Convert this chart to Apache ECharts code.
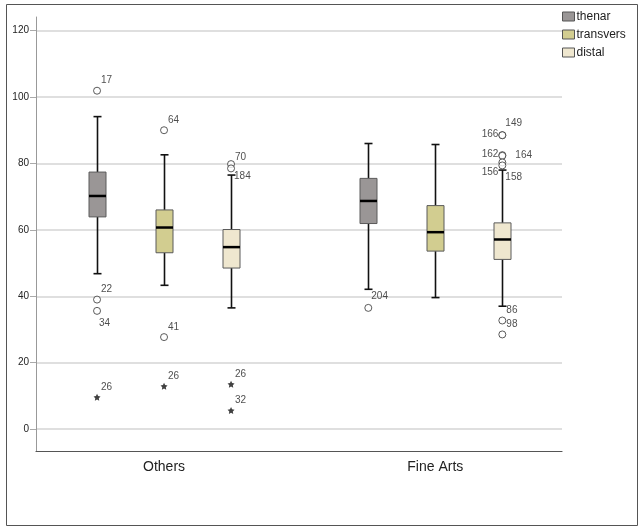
<!DOCTYPE html>
<html>
<head>
<meta charset="utf-8">
<script src="https://cdn.jsdelivr.net/npm/echarts@6/dist/echarts.min.js"></script>
<style>
html,body{margin:0;padding:0;background:#fff;}
#chart{width:638px;height:528px;}
</style>
</head>
<body>
<div id="chart"></div>
<script>
// ---------- data ----------
const groups = ['Others', 'Fine Arts'];
const seriesNames = ['thenar', 'transvers', 'distal'];
const yTicks = [0, 20, 40, 60, 80, 100, 120];
// [min, Q1, median, Q3, max] per group
const thenarStats    = [[46.8, 63.9, 70.2, 77.4, 94.1], [42.1, 61.9, 68.7, 75.5, 86.0]];
const transversStats = [[43.3, 53.1, 60.7, 66.0, 82.6], [39.6, 53.6, 59.3, 67.3, 85.7]];
const distalStats    = [[36.5, 48.5, 54.8, 60.1, 76.5], [37.0, 51.1, 57.1, 62.1, 78.0]];
// outliers: [groupIndex, value, case id]
const thenarOutliers    = [[0, 101.9, '17'], [0, 39.0, '22'], [0, 35.6, '34'], [1, 36.5, '204']];
const transversOutliers = [[0, 90.0, '64'], [0, 27.7, '41']];
const distalOutliers    = [[0, 79.8, '70'], [0, 78.5, '184'], [1, 88.5, '149'], [1, 88.5, '166'],
                           [1, 82.5, '162'], [1, 82.3, '164'], [1, 80.3, '156'], [1, 79.4, '158'],
                           [1, 32.7, '86'], [1, 28.5, '98']];
// extremes (stars)
const thenarExtremes    = [[0, 9.6, '26']];
const transversExtremes = [[0, 12.9, '26']];
const distalExtremes    = [[0, 13.5, '26'], [0, 5.6, '32']];

// ---------- style / layout ----------
const groupPos = [1, 2];
const seriesOffset = [-0.247, 0, 0.247];
const colors = ['#9a9696', '#d2cd90', '#efe7cf'];
const boxWidth = 17, capWidth = 8;
const FONT = 'Liberation Sans, Arial, sans-serif';
const placements = {
  ur: [4, -10, 'left'], lr: [2, 12, 'left'], l: [-4, -1, 'right'], r: [13, -1, 'left'],
  ll: [-4, 10, 'right'], ur2: [4, -7, 'left'], lr2: [3, 8, 'left'], ur3: [3, -12, 'left'], br: [3, 12, 'left']
};
const labelPlacement = {
  'thenar-34': 'lr', 'distal-70': 'ur2', 'distal-184': 'lr2', 'thenar-204': 'ur3',
  'distal-166': 'l', 'distal-162': 'l', 'distal-164': 'r', 'distal-156': 'll', 'distal-158': 'br',
  'distal-149': 'ur3'
};

const allStats = [thenarStats, transversStats, distalStats];
const allOutliers = [thenarOutliers, transversOutliers, distalOutliers];
const allExtremes = [thenarExtremes, transversExtremes, distalExtremes];

const starPath = 'path://M0,-10L2.9,-4L9.5,-3.1L4.8,1.6L5.9,8.1L0,5L-5.9,8.1L-4.8,1.6L-9.5,-3.1L-2.9,-4Z';

function pointItem(sIdx, p) {
  const key = seriesNames[sIdx] + '-' + p[2];
  const pl = placements[labelPlacement[key] || 'ur'];
  return {
    name: p[2],
    value: [groupPos[p[0]] + seriesOffset[sIdx], p[1]],
    label: { offset: [pl[0], pl[1]], align: pl[2] }
  };
}

const series = [];
allStats.forEach((stats, sIdx) => {
  series.push({
    name: seriesNames[sIdx],
    type: 'custom',
    z: 3,
    itemStyle: { color: colors[sIdx] },
    encode: { x: 0, y: [1, 2, 3, 4, 5] },
    data: stats.map((s, g) => [groupPos[g] + seriesOffset[sIdx]].concat(s)),
    renderItem: function (params, api) {
      const x = api.value(0);
      const pLo = api.coord([x, api.value(1)]);
      const pQ1 = api.coord([x, api.value(2)]);
      const pMd = api.coord([x, api.value(3)]);
      const pQ3 = api.coord([x, api.value(4)]);
      const pHi = api.coord([x, api.value(5)]);
      const cx = Math.round(pLo[0]) + 0.5;
      const hw = boxWidth / 2, cw = capWidth / 2;
      const ws = { stroke: '#111', lineWidth: 1.6 };
      return {
        type: 'group',
        children: [
          { type: 'line', shape: { x1: cx, y1: pLo[1], x2: cx, y2: pQ1[1] }, style: ws },
          { type: 'line', shape: { x1: cx, y1: pQ3[1], x2: cx, y2: pHi[1] }, style: ws },
          { type: 'line', shape: { x1: cx - cw, y1: pLo[1], x2: cx + cw, y2: pLo[1] }, style: ws },
          { type: 'line', shape: { x1: cx - cw, y1: pHi[1], x2: cx + cw, y2: pHi[1] }, style: ws },
          { type: 'rect', shape: { x: cx - hw, y: pQ3[1], width: boxWidth, height: pQ1[1] - pQ3[1] },
            style: { fill: colors[sIdx], stroke: '#5a5a5a', lineWidth: 1 } },
          { type: 'line', shape: { x1: cx - hw, y1: pMd[1], x2: cx + hw, y2: pMd[1] },
            style: { stroke: '#000', lineWidth: 2.5 } }
        ]
      };
    }
  });
});

const labelBase = {
  show: true, position: 'inside', formatter: '{b}', color: '#222',
  fontFamily: FONT, fontSize: 10, verticalAlign: 'middle'
};

const circleData = [], starData = [];
allOutliers.forEach((arr, sIdx) => arr.forEach(p => circleData.push(pointItem(sIdx, p))));
allExtremes.forEach((arr, sIdx) => arr.forEach(p => starData.push(pointItem(sIdx, p))));

series.push({
  type: 'scatter', name: 'outliers', z: 5,
  symbol: 'circle', symbolSize: 7,
  itemStyle: { color: '#fff', borderColor: '#333', borderWidth: 1 },
  label: labelBase, emphasis: { disabled: true },
  data: circleData
});
series.push({
  type: 'scatter', name: 'extremes', z: 5,
  symbol: starPath, symbolSize: 7,
  itemStyle: { color: '#111' },
  label: labelBase, emphasis: { disabled: true },
  data: starData
});

const chart = echarts.init(document.getElementById('chart'));
chart.setOption({
  animation: false,
  backgroundColor: '#fff',
  textStyle: { fontFamily: FONT },
  grid: { left: 36, right: 76, top: 17, bottom: 77 },
  legend: {
    orient: 'vertical', left: 557, top: 5, itemGap: 5,
    itemWidth: 12, itemHeight: 9, icon: 'rect',
    textStyle: { fontFamily: FONT, fontSize: 12, lineHeight: 13, color: '#222', padding: [0, 0, 0, -3] },
    data: seriesNames.map((n, i) => ({
      name: n, itemStyle: { color: colors[i], borderColor: '#555', borderWidth: 1 }
    })),
    selectedMode: false
  },
  xAxis: {
    type: 'value', min: 0.528, max: 2.467,
    axisLine: { show: true, onZero: false, lineStyle: { color: '#555', width: 1.2 } },
    axisTick: { show: false },
    splitLine: { show: false },
    axisLabel: {
      customValues: groupPos,
      formatter: v => groups[groupPos.indexOf(v)] || '',
      fontSize: 14, color: '#222', margin: 9, fontFamily: FONT
    }
  },
  yAxis: {
    type: 'value', min: -6.6, max: 124.1,
    axisLine: { show: true, lineStyle: { color: '#999', width: 1 } },
    axisTick: { show: true, length: 6, customValues: yTicks, lineStyle: { color: '#aaa' } },
    axisLabel: { customValues: yTicks, fontSize: 10, color: '#222', margin: 7, fontFamily: FONT },
    splitLine: { show: true, lineStyle: { color: '#d4d4d4', width: 1.5 } }
  },
  graphic: [{
    type: 'rect', left: 4, top: 2, z: 100, silent: true,
    shape: { width: 631, height: 521 },
    style: { fill: 'none', stroke: '#555', lineWidth: 1 }
  }],
  series: series
});
</script>
</body>
</html>
